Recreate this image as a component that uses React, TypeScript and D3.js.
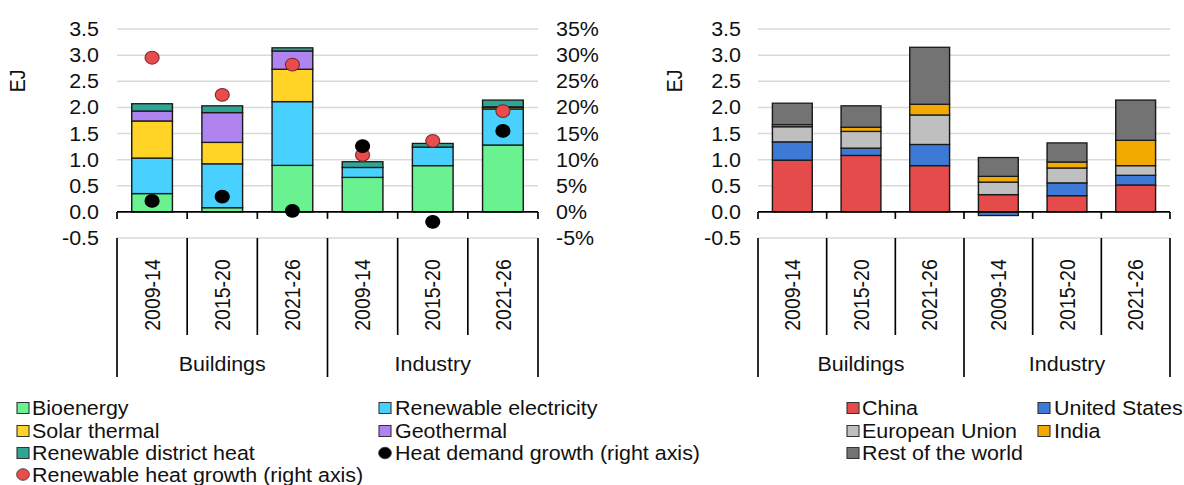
import React from 'react';
import * as d3 from 'd3';

// ---------- data ----------
const categories = ['2009-14', '2015-20', '2021-26', '2009-14', '2015-20', '2021-26'];
const sectorNames = ['Buildings', 'Industry'];
const yTicks = [-0.5, 0, 0.5, 1, 1.5, 2, 2.5, 3, 3.5];
const pctTicks = [-0.05, 0, 0.05, 0.1, 0.15, 0.2, 0.25, 0.3, 0.35];

// left panel (EJ)
const bioenergy = [0.35, 0.08, 0.89, 0.66, 0.885, 1.28];
const renewableElectricity = [0.68, 0.84, 1.22, 0.19, 0.355, 0.69];
const solarThermal = [0.71, 0.41, 0.62, 0.0, 0.0, 0.03];
const geothermal = [0.19, 0.57, 0.35, 0.0, 0.0, 0.01];
const districtHeat = [0.14, 0.13, 0.06, 0.11, 0.07, 0.13];
const renewableHeatGrowth = [0.295, 0.224, 0.282, 0.109, 0.136, 0.193];
const heatDemandGrowth = [0.021, 0.029, 0.002, 0.126, -0.019, 0.155];

// right panel (EJ)
const china = [0.99, 1.08, 0.885, 0.33, 0.31, 0.515];
const unitedStates = [0.35, 0.14, 0.405, -0.07, 0.245, 0.185];
const europeanUnion = [0.29, 0.32, 0.565, 0.24, 0.285, 0.185];
const india = [0.04, 0.08, 0.205, 0.11, 0.115, 0.485];
const restOfWorld = [0.41, 0.41, 1.09, 0.36, 0.365, 0.77];

const leftSeries = [
  { key: 'Bioenergy', values: bioenergy, color: '#69F28F' },
  { key: 'Renewable electricity', values: renewableElectricity, color: '#48D1FF' },
  { key: 'Solar thermal', values: solarThermal, color: '#FFD426' },
  { key: 'Geothermal', values: geothermal, color: '#B084F0' },
  { key: 'Renewable district heat', values: districtHeat, color: '#2FA595' },
];
const rightSeries = [
  { key: 'China', values: china, color: '#E54B4B' },
  { key: 'United States', values: unitedStates, color: '#3D7AD6' },
  { key: 'European Union', values: europeanUnion, color: '#BFBFBF' },
  { key: 'India', values: india, color: '#F2A900' },
  { key: 'Rest of the world', values: restOfWorld, color: '#737373' },
];

// ---------- layout ----------
const SX = 1.1; // horizontal stretch of the reference
const W = 1184;
const H = 485;
const IW = W / SX;
const X = (px: number) => px / SX;
const FONT = '"Liberation Sans", Arial, sans-serif';
const FS = 19.5;

const yTop = 29;
const yBot = 238;

type Series = { key: string; values: number[]; color: string };

function Panel(props: {
  left: number;
  right: number;
  series: Series[];
  tickLabelX: number;
  ejX: number;
  pctLabelX?: number;
  dots?: { values: number[]; fill: string; stroke: string }[];
}) {
  const { left, right, series, tickLabelX, ejX, pctLabelX, dots } = props;
  const idx = d3.range(categories.length);
  const x = d3
    .scaleBand<number>()
    .domain(idx)
    .range([X(left), X(right)])
    .paddingInner(0.42)
    .paddingOuter(0.21);
  const y = d3.scaleLinear().domain([-0.5, 3.5]).range([yBot, yTop]);
  const y2 = d3.scaleLinear().domain([-0.05, 0.35]).range([yBot, yTop]);
  const rows = idx.map((i) => {
    const r: any = { i };
    series.forEach((s) => (r[s.key] = s.values[i]));
    return r;
  });
  const stack = d3
    .stack<any>()
    .keys(series.map((s) => s.key))
    .offset(d3.stackOffsetDiverging)(rows);
  const step = x.step();
  const bounds = d3.range(categories.length + 1).map((k) => X(left) + k * step);
  const y0 = y(0);

  return (
    <g>
      {yTicks
        .filter((t) => t !== 0)
        .map((t) => (
          <line key={'g' + t} x1={X(left)} x2={X(right)} y1={y(t)} y2={y(t)} stroke="#D9D9D9" strokeWidth={1.5} />
        ))}
      {yTicks.map((t) => (
        <text key={'t' + t} x={X(tickLabelX)} y={y(t)} dy="0.36em" textAnchor="end" fontSize={FS} fontFamily={FONT} fill="#111">
          {t.toFixed(1)}
        </text>
      ))}
      {pctLabelX !== undefined &&
        pctTicks.map((t) => (
          <text key={'p' + t} x={X(pctLabelX)} y={y2(t)} dy="0.36em" textAnchor="start" fontSize={FS} fontFamily={FONT} fill="#111">
            {Math.round(t * 100) + '%'}
          </text>
        ))}
      <text
        transform={`translate(${X(ejX)},81) rotate(-90)`}
        textAnchor="middle"
        dy="0.36em"
        fontSize={FS}
        fontFamily={FONT}
        fill="#111"
      >
        EJ
      </text>
      {stack.map((layer, li) => (
        <g key={layer.key}>
          {layer.map((d, j) =>
            d[1] - d[0] === 0 ? null : (
              <rect
                key={j}
                x={x(j)}
                width={x.bandwidth()}
                y={y(Math.max(d[0], d[1]))}
                height={Math.abs(y(d[0]) - y(d[1]))}
                fill={series[li].color}
                stroke="#1a1a1a"
                strokeWidth={1.3}
              />
            )
          )}
        </g>
      ))}
      {/* category axis */}
      <line x1={X(left)} x2={X(right)} y1={y0} y2={y0} stroke="#000" strokeWidth={1.8} />
      {bounds.map((bx, k) => (
        <line key={'tk' + k} x1={bx} x2={bx} y1={y0} y2={y0 + 7} stroke="#000" strokeWidth={1.5} />
      ))}
      {bounds.map((bx, k) => (
        <line
          key={'sep' + k}
          x1={bx}
          x2={bx}
          y1={yBot}
          y2={k % 3 === 0 ? 377 : 335}
          stroke="#000"
          strokeWidth={1.5}
        />
      ))}
      {idx.map((i) => (
        <text
          key={'c' + i}
          transform={`translate(${(x(i) as number) + x.bandwidth() / 2},295) rotate(-90)`}
          textAnchor="middle"
          dy="0.36em"
          fontSize={FS}
          fontFamily={FONT}
          fill="#111"
        >
          {categories[i]}
        </text>
      ))}
      {sectorNames.map((s, k) => (
        <text
          key={s}
          x={(bounds[k * 3] + bounds[k * 3 + 3]) / 2}
          y={371}
          textAnchor="middle"
          fontSize={FS}
          fontFamily={FONT}
          fill="#111"
        >
          {s}
        </text>
      ))}
      {dots &&
        dots.map((ds, di) => (
          <g key={'d' + di}>
            {ds.values.map((v, i) => (
              <circle
                key={i}
                cx={(x(i) as number) + x.bandwidth() / 2}
                cy={y2(v)}
                r={6.4}
                fill={ds.fill}
                stroke={ds.stroke}
                strokeWidth={1}
              />
            ))}
          </g>
        ))}
    </g>
  );
}

type LegendItem = { label: string; color: string; shape: 'rect' | 'circle'; col: number; row: number };

function Legend(props: { items: LegendItem[]; cols: { box: number; text: number }[]; rows: number[] }) {
  return (
    <g>
      {props.items.map((it) => {
        const c = props.cols[it.col];
        const cy = props.rows[it.row];
        return (
          <g key={it.label}>
            {it.shape === 'rect' ? (
              <rect x={X(c.box)} y={cy - 5.5} width={X(12)} height={11} fill={it.color} stroke="#333" strokeWidth={1} />
            ) : (
              <circle cx={X(c.box + 6)} cy={cy} r={5.8} fill={it.color} stroke="#333" strokeWidth={0.8} />
            )}
            <text x={X(c.text)} y={cy} dy="0.36em" fontSize={FS} fontFamily={FONT} fill="#111">
              {it.label}
            </text>
          </g>
        );
      })}
    </g>
  );
}

export default function App() {
  const leftLegend: LegendItem[] = [
    { label: 'Bioenergy', color: leftSeries[0].color, shape: 'rect', col: 0, row: 0 },
    { label: 'Renewable electricity', color: leftSeries[1].color, shape: 'rect', col: 1, row: 0 },
    { label: 'Solar thermal', color: leftSeries[2].color, shape: 'rect', col: 0, row: 1 },
    { label: 'Geothermal', color: leftSeries[3].color, shape: 'rect', col: 1, row: 1 },
    { label: 'Renewable district heat', color: leftSeries[4].color, shape: 'rect', col: 0, row: 2 },
    { label: 'Heat demand growth (right axis)', color: '#000000', shape: 'circle', col: 1, row: 2 },
    { label: 'Renewable heat growth (right axis)', color: '#E84C4C', shape: 'circle', col: 0, row: 3 },
  ];
  const rightLegend: LegendItem[] = [
    { label: 'China', color: rightSeries[0].color, shape: 'rect', col: 0, row: 0 },
    { label: 'United States', color: rightSeries[1].color, shape: 'rect', col: 1, row: 0 },
    { label: 'European Union', color: rightSeries[2].color, shape: 'rect', col: 0, row: 1 },
    { label: 'India', color: rightSeries[3].color, shape: 'rect', col: 1, row: 1 },
    { label: 'Rest of the world', color: rightSeries[4].color, shape: 'rect', col: 0, row: 2 },
  ];
  return (
    <svg
      width={W}
      height={H}
      viewBox={`0 0 ${IW} ${H}`}
      preserveAspectRatio="none"
      style={{ position: 'absolute', left: 0, top: 0, background: '#fff' }}
    >
      <rect x={0} y={0} width={IW} height={H} fill="#fff" />
      <Panel
        left={117}
        right={538}
        series={leftSeries}
        tickLabelX={99}
        ejX={17}
        pctLabelX={556}
        dots={[
          { values: renewableHeatGrowth, fill: '#E84C4C', stroke: '#7a2a2a' },
          { values: heatDemandGrowth, fill: '#000000', stroke: '#000000' },
        ]}
      />
      <Panel left={758} right={1170} series={rightSeries} tickLabelX={741} ejX={674} />
      <Legend
        items={leftLegend}
        cols={[
          { box: 17, text: 32 },
          { box: 379, text: 395 },
        ]}
        rows={[408, 431, 453, 474.5]}
      />
      <Legend
        items={rightLegend}
        cols={[
          { box: 847, text: 862 },
          { box: 1038, text: 1054 },
        ]}
        rows={[408, 431, 453]}
      />
    </svg>
  );
}
